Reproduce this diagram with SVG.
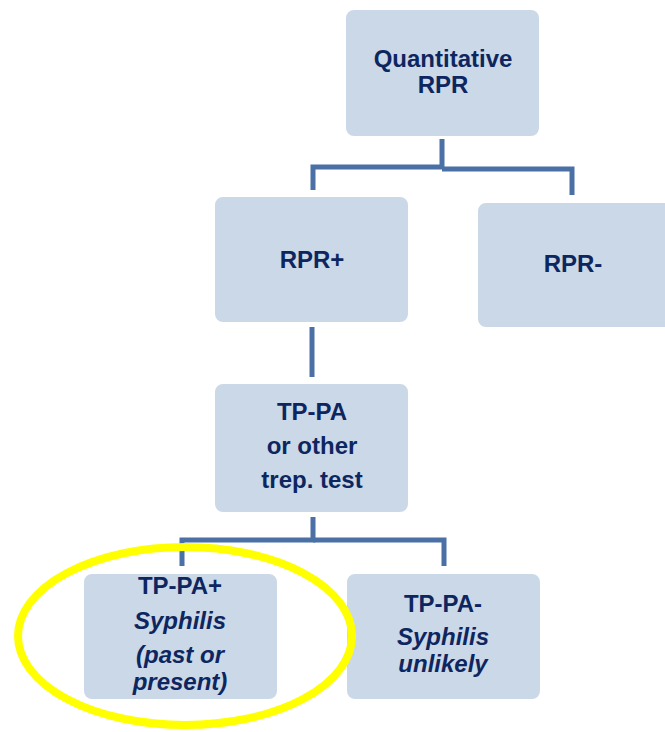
<svg xmlns="http://www.w3.org/2000/svg" width="665" height="732" viewBox="0 0 665 732">
<style>
.box{fill:#cbd8e7;stroke:#ffffff;stroke-width:2}
.t{font-family:"Liberation Sans",Arial,sans-serif;font-weight:bold;font-size:24px;fill:#0e2660;text-anchor:middle}
.i{font-style:italic}
.c{fill:none;stroke:#4a70a6;stroke-width:5;stroke-linejoin:miter}
</style>
<rect width="665" height="732" fill="#ffffff"/>
<g id="connectors">
<path class="c" d="M442,139 V167 H313 V190"/>
<path class="c" d="M442,169 H572 V195"/>
<path class="c" d="M312,327 V377"/>
<path class="c" d="M313,517 V540 H182 V566"/>
<path class="c" d="M313,540 H444 V566"/>
</g>
<g id="quantitative-rpr">
<rect class="box" x="345" y="9" width="195" height="128" rx="9"/>
<text class="t" x="443" y="67">Quantitative</text>
<text class="t" x="443" y="93">RPR</text>
</g>
<g id="rpr-pos">
<rect class="box" x="214" y="196" width="195" height="127" rx="9"/>
<text class="t" x="312" y="268">RPR+</text>
</g>
<g id="rpr-neg">
<rect class="box" x="477" y="202" width="200" height="126" rx="9"/>
<text class="t" x="573" y="272">RPR-</text>
</g>
<g id="tppa">
<rect class="box" x="214" y="383" width="195" height="130" rx="9"/>
<text class="t" x="312" y="420">TP-PA</text>
<text class="t" x="312" y="454">or other</text>
<text class="t" x="312" y="488">trep. test</text>
</g>
<g id="tppa-pos">
<rect class="box" x="83" y="573" width="195" height="127" rx="9"/>
<text class="t" x="180" y="594">TP-PA+</text>
<text class="t i" x="180" y="629">Syphilis</text>
<text class="t i" x="180" y="663">(past or</text>
<text class="t i" x="180" y="690">present)</text>
</g>
<g id="tppa-neg">
<rect class="box" x="346" y="573" width="195" height="127" rx="9"/>
<text class="t" x="443" y="612">TP-PA-</text>
<text class="t i" x="443" y="645">Syphilis</text>
<text class="t i" x="443" y="672">unlikely</text>
</g>
<g id="highlight">
<ellipse cx="185" cy="636" rx="167" ry="89" fill="none" stroke="#ffff00" stroke-width="8"/>
</g>
</svg>
